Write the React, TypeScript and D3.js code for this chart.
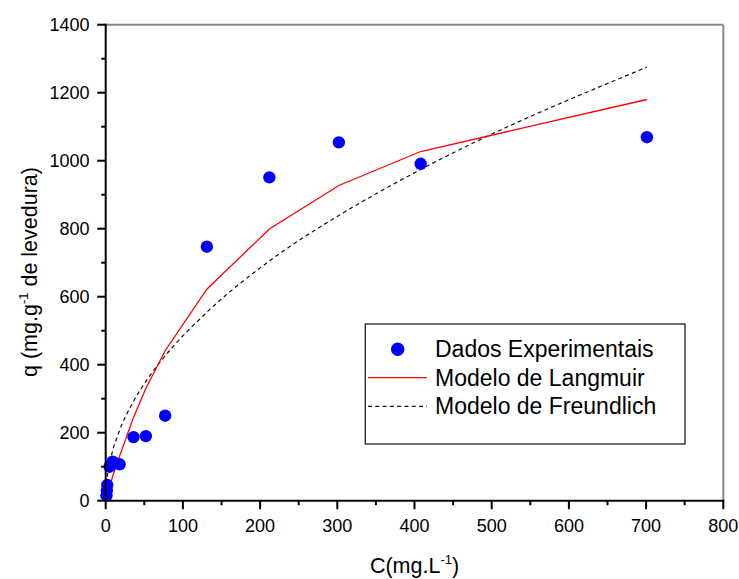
import React from "react";
import * as d3 from "d3";

const concC = [1, 1.5, 2, 5, 9, 18, 36, 52, 77, 131, 212, 302, 408, 701];
const qExp = [15, 30, 46, 100, 115, 107, 187, 190, 250, 747, 951, 1054, 991, 1069];
const qLangmuir = [8, 12, 16, 40, 72, 131, 245, 330, 441, 622, 799, 927, 1027, 1180];
const qFreundlich = [49, 60, 70, 110, 147, 207, 292, 351, 426, 554, 705, 839, 974, 1275];
const xTicks = [0, 100, 200, 300, 400, 500, 600, 700, 800];
const yTicks = [0, 200, 400, 600, 800, 1000, 1200, 1400];
const legendLabels = ["Dados Experimentais", "Modelo de Langmuir", "Modelo de Freundlich"];

const W = 739, H = 579;
const L = 105.7, R = 723.3, T = 24.7, B = 500.7;
const FONT = "'Liberation Sans', Arial, sans-serif";

export default function App() {
  const x = d3.scaleLinear().domain([0, 800]).range([L, R]);
  const y = d3.scaleLinear().domain([0, 1400]).range([B, T]);
  const line = d3.line<[number, number]>().x(d => x(d[0])).y(d => y(d[1]));
  const langPath = line(concC.map((c, i) => [c, qLangmuir[i]] as [number, number])) || "";
  const freuPath = d3.line<[number, number]>().x(d => x(d[0])).y(d => y(d[1])).curve(d3.curveMonotoneX)(
    concC.map((c, i) => [c, qFreundlich[i]] as [number, number])) || "";
  const xMinor = d3.range(0, 801, 50).filter(v => v % 100 !== 0);
  const yMinor = d3.range(0, 1401, 100).filter(v => v % 200 !== 0);

  return (
    <svg width={W} height={H} style={{ position: "absolute", left: 0, top: 0, background: "#fff" }} fontFamily={FONT}>
      <rect x={0} y={0} width={W} height={H} fill="#fff" />
      {/* top & right frame */}
      <line x1={L} x2={R} y1={T} y2={T} stroke="#888" strokeWidth={2} />
      <line x1={R} x2={R} y1={T} y2={B} stroke="#888" strokeWidth={2} />
      {/* curves */}
      <path d={freuPath} fill="none" stroke="#111" strokeWidth={1.2} strokeDasharray="4,3.3" />
      <path d={langPath} fill="none" stroke="#ff0000" strokeWidth={1.3} />
      {concC.map((c, i) => (
        <circle key={i} cx={x(c)} cy={y(qExp[i])} r={6.2} fill="#0000ff" />
      ))}
      {/* left & bottom axes */}
      <line x1={L} x2={L} y1={T - 1} y2={B + 1} stroke="#000" strokeWidth={2} />
      <line x1={L - 1} x2={R + 1} y1={B} y2={B} stroke="#000" strokeWidth={2} />
      {xTicks.map(v => (
        <g key={"xt" + v}>
          <line x1={x(v)} x2={x(v)} y1={B} y2={B + 8.5} stroke="#000" strokeWidth={2} />
          <text x={x(v)} y={532} fontSize={18} textAnchor="middle" fill="#000">{v}</text>
        </g>
      ))}
      {xMinor.map(v => (
        <line key={"xm" + v} x1={x(v)} x2={x(v)} y1={B} y2={B + 4.5} stroke="#000" strokeWidth={2} />
      ))}
      {yTicks.map(v => (
        <g key={"yt" + v}>
          <line x1={L - 8.5} x2={L} y1={y(v)} y2={y(v)} stroke="#000" strokeWidth={2} />
          <text x={89.5} y={y(v) + 6.4} fontSize={18} textAnchor="end" fill="#000">{v}</text>
        </g>
      ))}
      {yMinor.map(v => (
        <line key={"ym" + v} x1={L - 4.5} x2={L} y1={y(v)} y2={y(v)} stroke="#000" strokeWidth={2} />
      ))}
      {/* axis titles */}
      <text x={(L + R) / 2} y={572.5} fontSize={21.5} textAnchor="middle" fill="#000">
        C(mg.L<tspan fontSize={13} dy={-9}>-1</tspan><tspan dy={9}>)</tspan>
      </text>
      <text transform={`translate(36.7,272) rotate(-90)`} fontSize={21.5} textAnchor="middle" fill="#000">
        q (mg.g<tspan fontSize={13} dy={-9}>-1</tspan><tspan dy={9}> de levedura)</tspan>
      </text>
      {/* legend */}
      <rect x={365.3} y={324} width={319.7} height={120} fill="#fff" stroke="#222" strokeWidth={1.3} />
      <circle cx={397.7} cy={349.3} r={6.7} fill="#0000ff" />
      <line x1={368} x2={427} y1={377.7} y2={377.7} stroke="#ff0000" strokeWidth={1.3} />
      <line x1={368} x2={427} y1={406.3} y2={406.3} stroke="#111" strokeWidth={1.2} strokeDasharray="4,3.3" />
      {legendLabels.map((t, i) => (
        <text key={t} x={435} y={357 + i * 28.5} fontSize={23} fill="#000">{t}</text>
      ))}
    </svg>
  );
}
